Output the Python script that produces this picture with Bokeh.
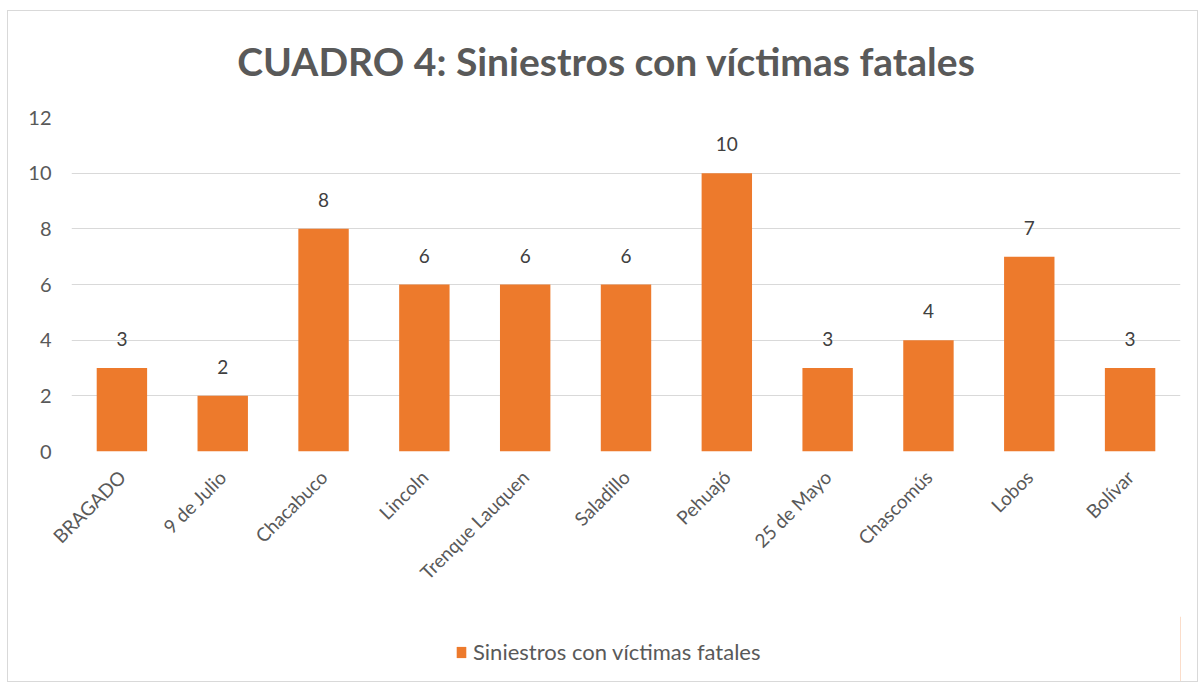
import math
from bokeh.plotting import figure
from bokeh.layouts import column
from bokeh.models import ColumnDataSource, LabelSet, Legend, LegendItem, Label
from bokeh.core.properties import value
from bokeh.embed import file_html
from bokeh.resources import INLINE

categories = ["BRAGADO", "9 de Julio", "Chacabuco", "Lincoln", "Trenque Lauquen",
              "Saladillo", "Pehuajó", "25 de Mayo", "Chascomús", "Lobos", "Bolívar"]
values = [3, 2, 8, 6, 6, 6, 10, 3, 4, 7, 3]
y_ticks = [0, 2, 4, 6, 8, 10, 12]
series_name = "Siniestros con víctimas fatales"
title_text = "CUADRO 4: Siniestros con víctimas fatales"

FONT = "Lato"
TXT = "#595959"
BAR = "#ed7a2c"
W = 1189


def strip(height):
    f = figure(x_range=(0, 1), y_range=(0, 1), width=W, height=height,
               output_backend="svg", toolbar_location=None,
               min_border_left=0, min_border_right=0, min_border_top=0,
               min_border_bottom=0)
    f.axis.visible = False
    f.grid.visible = False
    f.outline_line_color = None
    return f


# title strip
p0 = strip(92)
p0.add_layout(Label(x=535, y=43, x_units="screen", y_units="screen",
                    text=title_text, text_align="center", text_baseline="middle",
                    text_font=FONT, text_font_size="39px", text_font_style="bold",
                    text_color=TXT))

src = ColumnDataSource(dict(cat=categories, val=values, lab=[str(v) for v in values]))

p = figure(x_range=categories, y_range=(0, 12), width=W, height=513,
           output_backend="svg", toolbar_location=None,
           min_border_left=63, min_border_right=17, min_border_top=14,
           min_border_bottom=165)

r = p.vbar(x="cat", top="val", width=0.5, source=src,
           fill_color=BAR, line_color=None)

labels = LabelSet(x="cat", y="val", text="lab", source=src, y_offset=22,
                  text_align="center", text_baseline="bottom",
                  text_font=value(FONT), text_font_size=value("19px"),
                  text_color="#404040")
p.add_layout(labels)

p.yaxis.ticker = y_ticks
p.ygrid.grid_line_color = "#d9d9d9"
p.xgrid.grid_line_color = None
p.outline_line_color = None
for ax in (p.xaxis, p.yaxis):
    ax.axis_line_color = None
    ax.major_tick_line_color = None
    ax.minor_tick_line_color = None
    ax.major_tick_out = 0
    ax.major_tick_in = 0
    ax.minor_tick_out = 0
    ax.major_label_text_font = FONT
    ax.major_label_text_color = TXT
p.yaxis.major_label_text_font_size = "20px"
p.xaxis.major_label_text_font_size = "19px"
p.yaxis.major_label_standoff = 20
p.xaxis.major_label_orientation = math.pi / 4
p.xaxis.major_label_standoff = 22

# legend strip below the chart
p2 = strip(65)
leg_src = ColumnDataSource(dict(x=[5], top=[1]))
r2 = p2.vbar(x="x", top="top", width=0.5, source=leg_src,
             fill_color=BAR, line_color=None)

legend = Legend(items=[LegendItem(label=series_name, renderers=[r2])],
                location=(384, 16), orientation="horizontal",
                label_text_font=FONT, label_text_font_size="22px",
                label_text_color=TXT, glyph_width=12, glyph_height=14,
                border_line_color=None, background_fill_alpha=0,
                padding=0, margin=0, label_standoff=6)
p2.add_layout(legend, "center")

layout = column(p0, p, p2, spacing=0,
                styles={"border": "1px solid #d9d9d9",
                        "margin-left": "7px", "margin-top": "10px"})

open("out.html", "w").write(file_html(layout, INLINE))
